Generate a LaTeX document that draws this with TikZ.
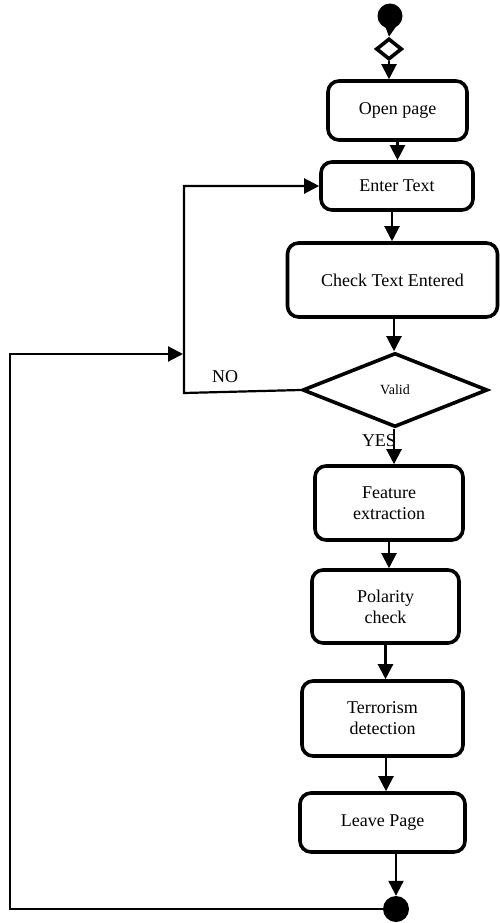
\documentclass[tikz,border=0pt]{standalone}
\usepackage{fontspec}
\setmainfont{Liberation Serif}
\usetikzlibrary{shapes.geometric,arrows.meta,calc}
\tikzset{
  box/.style={draw, line width=3.6pt, rounded corners=11pt, align=center,
    font=\fontsize{18}{21}\selectfont, inner sep=0pt},
  decision/.style={draw, diamond, line width=3.6pt, inner sep=0pt},
  dot/.style={circle, fill=black, inner sep=0pt, minimum size=25pt},
  arr/.style={line width=2.2pt, -{Triangle[length=15pt,width=15pt]}},
  lab/.style={font=\fontsize{18}{21}\selectfont, inner sep=0pt}
}
\begin{document}
\begin{tikzpicture}[x=1pt,y=-1pt]
\useasboundingbox (0,0) rectangle (500,923);

% initial node and merge
\node[dot] (start) at (390,16) {};
\node[decision, minimum width=26pt, minimum height=21pt] (merge) at (389,49) {};

% activities
\node[box, minimum width=139pt, minimum height=59pt] (open) at (397.5,110.5) {Open page};
\node[box, minimum width=152pt, minimum height=48pt] (enter) at (397,186) {Enter Text};
\node[box, minimum width=210pt, minimum height=74pt] (check) at (392.5,280) {Check Text Entered};
\node[decision, minimum width=185pt, minimum height=74pt,
      font=\fontsize{14}{16}\selectfont] (valid) at (395,390) {Valid};
\node[box, minimum width=148pt, minimum height=74pt] (feature) at (389,503) {Feature\\extraction};
\node[box, minimum width=147pt, minimum height=73pt] (polarity) at (385.5,606.5) {Polarity\\check};
\node[box, minimum width=161pt, minimum height=75pt] (terror) at (382.5,718.5) {Terrorism\\detection};
\node[box, minimum width=165pt, minimum height=59pt] (leave) at (382.5,822.5) {Leave Page};

% final node
\node[dot, minimum size=26pt] (final) at (396,909) {};

% loop corners
\coordinate (join) at (183,354);
\coordinate (lowleft) at (10,909);
\coordinate (nobend) at (184,393);

% main flow
\draw[arr] (start.south) -- (merge.north);
\draw[arr] (merge.south) -- (merge.south |- open.north);
\draw[arr] (open.south) -- (open.south |- enter.north);
\draw[arr] ([xshift=-5pt]enter.south) -- ([xshift=-5pt]enter.south |- check.north);
\draw[arr] ([xshift=1.5pt]check.south) -- ([xshift=1.5pt]check.south |- valid.north);
\draw[arr] ([xshift=-1pt]valid.south) -- ([xshift=-1pt]valid.south |- feature.north);
\draw[arr] (feature.south) -- (feature.south |- polarity.north);
\draw[arr] (polarity.south) -- (polarity.south |- terror.north);
\draw[arr] ([xshift=3.5pt]terror.south) -- ([xshift=3.5pt]terror.south |- leave.north);
\draw[arr] (final.north |- leave.south) -- (final.north);

% NO branch back to text entry
\draw[arr] (valid.west) -- (nobend) |- (enter.west);

% return from the end back into the loop
\draw[arr] (final.west) -- (lowleft) |- (join);

% branch labels
\node[lab] (no) at (225,377) {NO};
\node[lab] (yes) at (379,441) {YES};
\end{tikzpicture}
\end{document}
